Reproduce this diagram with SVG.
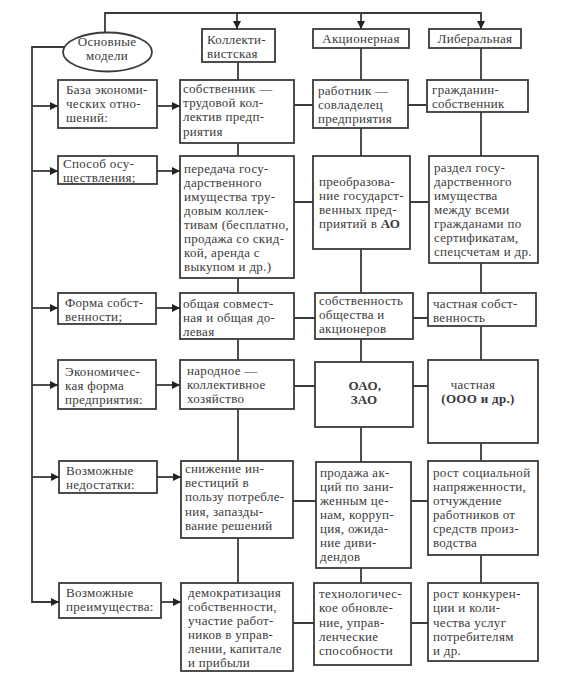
<svg xmlns="http://www.w3.org/2000/svg" width="573" height="692" viewBox="0 0 573 692" font-family="'Liberation Serif', 'DejaVu Serif', serif">
<style>
.b{fill:#fff;stroke:#3a3a3a;stroke-width:1.8}
.c{fill:none;stroke:#3a3a3a;stroke-width:1.8}
text{font-family:'Liberation Serif','DejaVu Serif','Times New Roman',serif;font-size:13px;fill:#3a3a3a;letter-spacing:0.3px}
.m{text-anchor:middle}
.bd{font-weight:bold}
</style>
<defs>
<marker id="ah" viewBox="0 0 10 10" refX="10" refY="5" markerWidth="9" markerHeight="8" markerUnits="userSpaceOnUse" orient="auto"><path d="M0,0 L10,5 L0,10 z" fill="#222"/></marker>
</defs>
<rect width="573" height="692" fill="#fff"/>
<g id="connectors">
<path class="c" d="M105,33 V13 H481 V29" marker-end="url(#ah)"/>
<path class="c" d="M237,13 V29" marker-end="url(#ah)"/>
<path class="c" d="M361,13 V29" marker-end="url(#ah)"/>
<path class="c" d="M65,47 H32 V602 H59" marker-end="url(#ah)"/>
<path class="c" d="M32,106 H58" marker-end="url(#ah)"/>
<path class="c" d="M32,171 H58" marker-end="url(#ah)"/>
<path class="c" d="M32,308 H58" marker-end="url(#ah)"/>
<path class="c" d="M32,385 H58" marker-end="url(#ah)"/>
<path class="c" d="M32,477 H59" marker-end="url(#ah)"/>
<path class="c" d="M157,106 H180" marker-end="url(#ah)"/>
<path class="c" d="M157,171 H180" marker-end="url(#ah)"/>
<path class="c" d="M156,308 H180" marker-end="url(#ah)"/>
<path class="c" d="M156,385 H180" marker-end="url(#ah)"/>
<path class="c" d="M157,477 H181" marker-end="url(#ah)"/>
<path class="c" d="M161,602 H181" marker-end="url(#ah)"/>
<path class="c" d="M238,62 V583"/>
<path class="c" d="M361,48 V583"/>
<path class="c" d="M481,48 V583"/>
<path class="c" d="M294,105 H427"/>
<path class="c" d="M294,202 H429"/>
<path class="c" d="M294,318 H428"/>
<path class="c" d="M294,386 H428"/>
<path class="c" d="M293,501 H428"/>
<path class="c" d="M293,623 H428"/>
</g>
<g id="root">
<ellipse class="b" cx="107.5" cy="52" rx="44.5" ry="19.5"/>
<text class="m" x="107" y="46">Основные</text>
<text class="m" x="107" y="60">модели</text>
</g>
<g id="h-koll">
<rect class="b" x="202" y="29" width="73" height="33"/>
<text x="207" y="44">Коллекти-</text>
<text x="207" y="58">вистская</text>
</g>
<g id="h-akc">
<rect class="b" x="313" y="29" width="96" height="19"/>
<text class="m" x="361" y="43">Акционерная</text>
</g>
<g id="h-lib">
<rect class="b" x="429" y="29" width="92" height="19"/>
<text class="m" x="475" y="43">Либеральная</text>
</g>
<g id="l-baza">
<rect class="b" x="58" y="80" width="99" height="48"/>
<text x="66" y="94">База экономи-</text>
<text x="66" y="108">ческих отно-</text>
<text x="66" y="122">шений:</text>
</g>
<g id="k-baza">
<rect class="b" x="180" y="80" width="114" height="63"/>
<text x="183" y="93">собственник —</text>
<text x="183" y="107">трудовой кол-</text>
<text x="183" y="121">лектив предп-</text>
<text x="183" y="136">риятия</text>
</g>
<g id="a-baza">
<rect class="b" x="313" y="80" width="95" height="48"/>
<text x="318" y="95">работник —</text>
<text x="318" y="109">совладелец</text>
<text x="318" y="123">предприятия</text>
</g>
<g id="lb-baza">
<rect class="b" x="427" y="80" width="101" height="32"/>
<text x="432" y="94">гражданин-</text>
<text x="432" y="108">собственник</text>
</g>
<g id="l-sposob">
<rect class="b" x="58" y="156" width="99" height="28"/>
<text x="63" y="168">Способ осу-</text>
<text x="63" y="182">ществления;</text>
</g>
<g id="k-sposob">
<rect class="b" x="180" y="156" width="114" height="122"/>
<text x="184" y="173">передача госу-</text>
<text x="184" y="187">дарственного</text>
<text x="184" y="201">имущества тру-</text>
<text x="184" y="215">довым коллек-</text>
<text x="184" y="229">тивам (бесплатно,</text>
<text x="184" y="243">продажа со скид-</text>
<text x="184" y="257">кой, аренда с</text>
<text x="184" y="271">выкупом и др.)</text>
</g>
<g id="a-sposob">
<rect class="b" x="313" y="156" width="97" height="93"/>
<text x="319" y="186">преобразова-</text>
<text x="319" y="200">ние государст-</text>
<text x="319" y="214">венных пред-</text>
<text x="319" y="228">приятий в <tspan class="bd">АО</tspan></text>
</g>
<g id="lb-sposob">
<rect class="b" x="429" y="156" width="109" height="107"/>
<text x="434" y="172">раздел госу-</text>
<text x="434" y="186">дарственного</text>
<text x="434" y="200">имущества</text>
<text x="434" y="214">между всеми</text>
<text x="434" y="228">гражданами по</text>
<text x="434" y="242">сертификатам,</text>
<text x="434" y="256">спецсчетам и др.</text>
</g>
<g id="l-forma">
<rect class="b" x="58" y="293" width="98" height="31"/>
<text x="65" y="307">Форма собст-</text>
<text x="65" y="321">венности;</text>
</g>
<g id="k-forma">
<rect class="b" x="180" y="293" width="114" height="46"/>
<text x="183" y="308">общая совмест-</text>
<text x="183" y="322">ная и общая до-</text>
<text x="183" y="336">левая</text>
</g>
<g id="a-forma">
<rect class="b" x="315" y="293" width="98" height="46"/>
<text x="319" y="305">собственность</text>
<text x="319" y="319">общества и</text>
<text x="319" y="333">акционеров</text>
</g>
<g id="lb-forma">
<rect class="b" x="428" y="293" width="108" height="33"/>
<text x="433" y="308">частная собст-</text>
<text x="433" y="322">венность</text>
</g>
<g id="l-ekon">
<rect class="b" x="58" y="360" width="98" height="49"/>
<text x="65" y="376">Экономичес-</text>
<text x="65" y="390">кая форма</text>
<text x="65" y="404">предприятия:</text>
</g>
<g id="k-ekon">
<rect class="b" x="180" y="360" width="114" height="49"/>
<text x="187" y="375">народное —</text>
<text x="187" y="389">коллективное</text>
<text x="187" y="403">хозяйство</text>
</g>
<g id="a-ekon">
<rect class="b" x="315" y="362" width="98" height="65"/>
<text class="m bd" x="365" y="390">ОАО,</text>
<text class="m bd" x="364" y="404">ЗАО</text>
</g>
<g id="lb-ekon">
<rect class="b" x="428" y="360" width="110" height="83"/>
<text class="m" x="473" y="389">частная</text>
<text class="m bd" x="478" y="403">(ООО и др.)</text>
</g>
<g id="l-nedost">
<rect class="b" x="59" y="461" width="98" height="32"/>
<text x="66" y="475">Возможные</text>
<text x="66" y="489">недостатки:</text>
</g>
<g id="k-nedost">
<rect class="b" x="181" y="461" width="112" height="77"/>
<text x="185" y="473">снижение ин-</text>
<text x="185" y="487">вестиций в</text>
<text x="185" y="501">пользу потребле-</text>
<text x="185" y="516">ния, запазды-</text>
<text x="185" y="530">вание решений</text>
</g>
<g id="a-nedost">
<rect class="b" x="316" y="462" width="95" height="106"/>
<text x="320" y="477">продажа ак-</text>
<text x="320" y="491">ций по зани-</text>
<text x="320" y="505">женным це-</text>
<text x="320" y="519">нам, корруп-</text>
<text x="320" y="533">ция, ожида-</text>
<text x="320" y="547">ние диви-</text>
<text x="320" y="561">дендов</text>
</g>
<g id="lb-nedost">
<rect class="b" x="428" y="461" width="110" height="94"/>
<text x="433" y="477">рост социальной</text>
<text x="433" y="491">напряженности,</text>
<text x="433" y="505">отчуждение</text>
<text x="433" y="519">работников от</text>
<text x="433" y="533">средств произ-</text>
<text x="433" y="547">водства</text>
</g>
<g id="l-preim">
<rect class="b" x="59" y="583" width="102" height="35"/>
<text x="66" y="597">Возможные</text>
<text x="66" y="611">преимущества:</text>
</g>
<g id="k-preim">
<rect class="b" x="181" y="583" width="112" height="88"/>
<text x="188" y="597">демократизация</text>
<text x="188" y="611">собственности,</text>
<text x="188" y="625">участие работ-</text>
<text x="188" y="639">ников в управ-</text>
<text x="188" y="653">лении, капитале</text>
<text x="188" y="667">и прибыли</text>
</g>
<g id="a-preim">
<rect class="b" x="314" y="583" width="97" height="82"/>
<text x="319" y="598">технологичес-</text>
<text x="319" y="612">кое обновле-</text>
<text x="319" y="627">ние, управ-</text>
<text x="319" y="641">ленческие</text>
<text x="319" y="655">способности</text>
</g>
<g id="lb-preim">
<rect class="b" x="428" y="583" width="110" height="78"/>
<text x="433" y="598">рост конкурен-</text>
<text x="433" y="612">ции и коли-</text>
<text x="433" y="627">чества услуг</text>
<text x="433" y="641">потребителям</text>
<text x="433" y="655">и др.</text>
</g>
</svg>
